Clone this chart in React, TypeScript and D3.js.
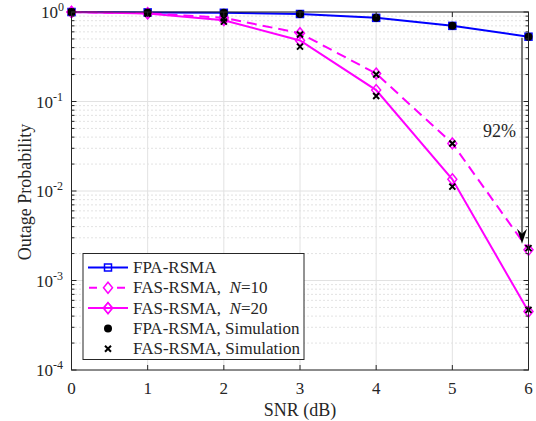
import React from "react";
import * as d3 from "d3";

const snr = [0, 1, 2, 3, 4, 5, 6];
const fpa = [1.0, 0.99, 0.98, 0.95, 0.86, 0.7, 0.53];
const fas10 = [1.0, 0.97, 0.86, 0.58, 0.205, 0.034, 0.0022];
const fas20 = [1.0, 0.965, 0.81, 0.48, 0.134, 0.0135, 0.00045];
const fpaSim = [1.0, 0.99, 0.98, 0.95, 0.86, 0.7, 0.53];
const fas10Sim = [1.0, 0.97, 0.85, 0.56, 0.2, 0.034, 0.0023];
const fas20Sim = [1.0, 0.96, 0.78, 0.41, 0.115, 0.0112, 0.00047];
const xTicks = [0, 1, 2, 3, 4, 5, 6];
const yExps = [0, -1, -2, -3, -4];
const legendLabels = ["FPA-RSMA", "FAS-RSMA,  ", "FAS-RSMA,  ", "FPA-RSMA, Simulation", "FAS-RSMA, Simulation"];
const legendN = ["", "10", "20", "", ""];
const annotation = "92%";

const W = 536, H = 421;
const L = 71.5, R = 528.5, T = 12, B = 370;
const FONT = '"Liberation Serif", Tinos, "Times New Roman", Times, serif';

export default function App() {
  const x = d3.scaleLinear().domain([0, 6]).range([L, R]);
  const y = d3.scaleLog().domain([1e-4, 1]).range([B, T]);
  const line = d3.line<number>().x((_, i) => x(snr[i])).y((d) => y(d));

  const minors: number[] = [];
  for (let e = -4; e < 0; e++) for (let m = 2; m <= 9; m++) minors.push(m * Math.pow(10, e));

  const magenta = "#ff00ff";
  const blue = "#0000ff";

  const square = (cx: number, cy: number, k: string) => (
    <rect key={k} x={cx - 3.5} y={cy - 3.5} width={7} height={7} fill="none" stroke={blue} strokeWidth={1.5} />
  );
  const diamond = (cx: number, cy: number, k: string) => (
    <path key={k} d={`M${cx},${cy - 5.5}L${cx + 4.5},${cy}L${cx},${cy + 5.5}L${cx - 4.5},${cy}Z`} fill="none" stroke={magenta} strokeWidth={1.5} />
  );
  const cross = (cx: number, cy: number, k: string) => (
    <path key={k} d={`M${cx - 3},${cy - 3}L${cx + 3},${cy + 3}M${cx - 3},${cy + 3}L${cx + 3},${cy - 3}`} stroke="#000" strokeWidth={2} />
  );
  const dot = (cx: number, cy: number, k: string) => <circle key={k} cx={cx} cy={cy} r={4} fill="#000" />;

  const ax = x(6) - 6.5;
  const ay0 = y(fpa[6]) + 1;
  const ay1 = y(fas10[6]) - 6;

  const legX = 83, legY = 253.5, legW = 221, legH = 106;
  const rowY = (i: number) => legY + 14 + i * 20.3;

  return (
    <svg width={W} height={H} style={{ position: "absolute", left: 0, top: 0, background: "#fff", fontFamily: FONT }}>
      <rect x={0} y={0} width={W} height={H} fill="#fff" />
      {/* grid */}
      {minors.map((v, i) => (
        <line key={"mg" + i} x1={L} x2={R} y1={y(v)} y2={y(v)} stroke="#b8b8b8" strokeWidth={0.8} strokeDasharray="1,3" />
      ))}
      {yExps.map((e) => (
        <line key={"yg" + e} x1={L} x2={R} y1={y(Math.pow(10, e))} y2={y(Math.pow(10, e))} stroke="#e2e2e2" strokeWidth={1} />
      ))}
      {xTicks.map((t) => (
        <line key={"xg" + t} x1={x(t)} x2={x(t)} y1={T} y2={B} stroke="#e2e2e2" strokeWidth={1} />
      ))}
      {/* lines */}
      <path d={line(fpa) || ""} fill="none" stroke={blue} strokeWidth={2} />
      <path d={line(fas10) || ""} fill="none" stroke={magenta} strokeWidth={2} strokeDasharray="10,6" />
      <path d={line(fas20) || ""} fill="none" stroke={magenta} strokeWidth={2} />
      {fpa.map((v, i) => square(x(snr[i]), y(v), "sq" + i))}
      {fas10.map((v, i) => diamond(x(snr[i]), y(v), "d10" + i))}
      {fas20.map((v, i) => diamond(x(snr[i]), y(v), "d20" + i))}
      {fpaSim.map((v, i) => dot(x(snr[i]), y(v), "fs" + i))}
      {fas10Sim.map((v, i) => cross(x(snr[i]), y(v), "c10" + i))}
      {fas20Sim.map((v, i) => cross(x(snr[i]), y(v), "c20" + i))}
      {/* axes box */}
      <rect x={L} y={T} width={R - L} height={B - T} fill="none" stroke="#262626" strokeWidth={1} />
      {xTicks.map((t) => (
        <g key={"xt" + t}>
          <line x1={x(t)} x2={x(t)} y1={B} y2={B - 5} stroke="#262626" />
          <line x1={x(t)} x2={x(t)} y1={T} y2={T + 5} stroke="#262626" />
          <text x={x(t)} y={394} fontSize={17} textAnchor="middle" fill="#262626">{t}</text>
        </g>
      ))}
      {yExps.map((e) => {
        const yy = y(Math.pow(10, e));
        return (
          <g key={"yt" + e}>
            <line x1={L} x2={L + 5} y1={yy} y2={yy} stroke="#262626" />
            <line x1={R} x2={R - 5} y1={yy} y2={yy} stroke="#262626" />
            <text x={e < 0 ? 36 : 41} y={yy + 6} fontSize={17} fill="#262626">
              10<tspan dy={-7} fontSize={12}>{e}</tspan>
            </text>
          </g>
        );
      })}
      {minors.map((v, i) => (
        <g key={"mt" + i}>
          <line x1={L} x2={L + 3} y1={y(v)} y2={y(v)} stroke="#262626" />
          <line x1={R} x2={R - 3} y1={y(v)} y2={y(v)} stroke="#262626" />
        </g>
      ))}
      <text x={300} y={416} fontSize={18} textAnchor="middle" fill="#262626">SNR (dB)</text>
      <text transform={`translate(31,${192}) rotate(-90)`} fontSize={18} textAnchor="middle" fill="#262626">Outage Probability</text>
      {/* annotation */}
      <line x1={ax} x2={ax} y1={ay0} y2={ay1 - 8} stroke="#4d4d4d" strokeWidth={1.5} />
      <path d={`M${ax},${ay1}L${ax - 5},${ay1 - 15}L${ax},${ay1 - 10}L${ax + 5},${ay1 - 15}Z`} fill="#000" />
      <text x={516} y={137} fontSize={18} textAnchor="end" fill="#262626">{annotation}</text>
      {/* legend */}
      <rect x={legX} y={legY} width={legW} height={legH} fill="#fff" stroke="#262626" strokeWidth={1} />
      {legendLabels.map((lab, i) => {
        const ry = rowY(i);
        const sx0 = 88, sx1 = 128, cx = 108;
        return (
          <g key={"lg" + i}>
            {i === 0 && <line x1={sx0} x2={sx1} y1={ry} y2={ry} stroke={blue} strokeWidth={2} />}
            {i === 0 && square(cx, ry, "lsq")}
            {i === 1 && <line x1={sx0} x2={sx1} y1={ry} y2={ry} stroke={magenta} strokeWidth={2} strokeDasharray="8,6" strokeDashoffset={-1} />}
            {i === 1 && <rect x={cx - 6} y={ry - 6} width={12} height={12} fill="#fff" />}
            {(i === 1 || i === 2) && diamond(cx, ry, "ld" + i)}
            {i === 2 && <line x1={sx0} x2={sx1} y1={ry} y2={ry} stroke={magenta} strokeWidth={2} />}
            {i === 2 && diamond(cx, ry, "ld2b")}
            {i === 3 && dot(cx, ry, "ldot")}
            {i === 4 && cross(cx, ry, "lcr")}
            <text x={133} y={ry + 5.5} fontSize={17} fill="#262626" xmlSpace="preserve">
              {lab}
              {legendN[i] && <tspan fontStyle="italic">N</tspan>}
              {legendN[i] && <tspan>={legendN[i]}</tspan>}
            </text>
          </g>
        );
      })}
    </svg>
  );
}
